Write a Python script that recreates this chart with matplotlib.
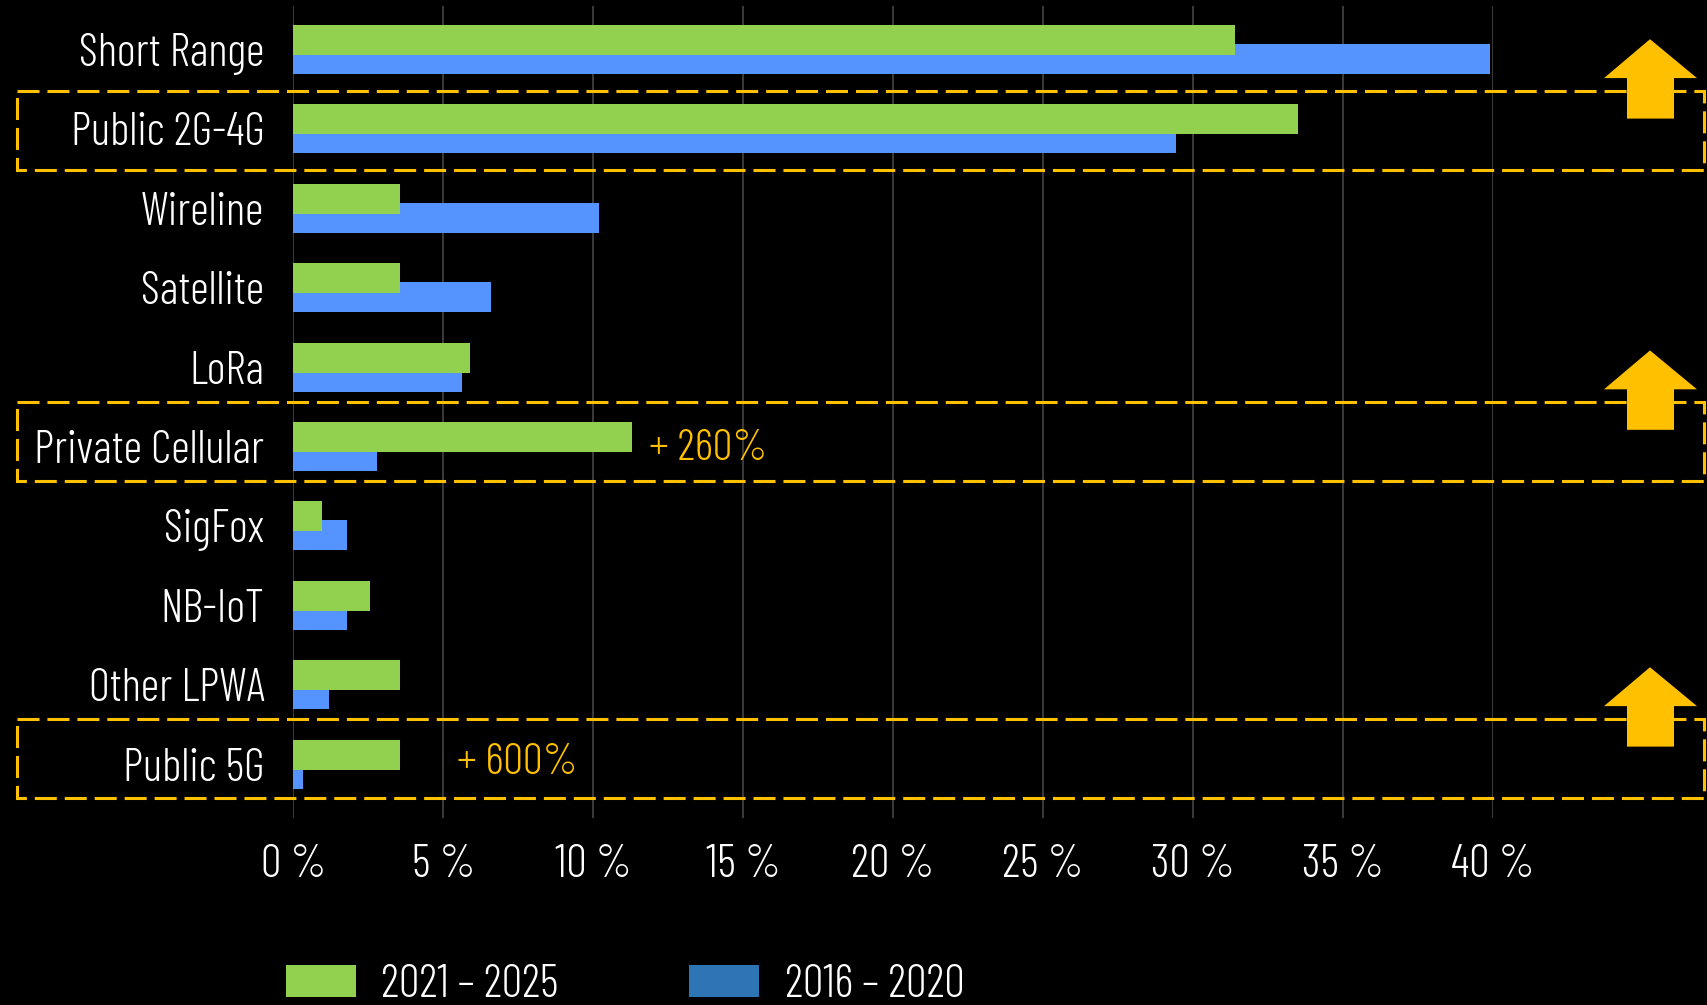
import matplotlib
matplotlib.use('Agg')
import matplotlib.pyplot as plt
import matplotlib.transforms as mtransforms
from matplotlib import font_manager
from matplotlib.patches import Patch, Rectangle, Polygon

# datos
categories = ['Short Range', 'Public 2G-4G', 'Wireline', 'Satellite', 'LoRa',
              'Private Cellular', 'SigFox', 'NB-IoT', 'Other LPWA', 'Public 5G']
share2021_2025 = [31.4, 33.5, 3.55, 3.55, 5.9, 11.3, 0.95, 2.55, 3.55, 3.55]
share2016_2020 = [39.9, 29.45, 10.2, 6.6, 5.62, 2.78, 1.8, 1.8, 1.18, 0.32]
xTicks = [0, 5, 10, 15, 20, 25, 30, 35, 40]
xTickLabels = ['0 %', '5 %', '10 %', '15 %', '20 %', '25 %', '30 %', '35 %', '40 %']
seriesNames = ['2021 – 2025', '2016 – 2020']
boxRows = [1, 5, 9]
growthRows = [5, 9]
growthLabels = ['+ 260%', '+ 600%']

green = '#92D050'
blue = '#5593FF'
blueLegend = '#2E75B6'
amber = '#FFC000'

# fuente estrecha si existe, si no una normal mas pequena
names = {f.name for f in font_manager.fontManager.ttflist}
if 'Barlow Condensed' in names:
     plt.rcParams['font.family'] = ['Barlow Condensed', 'DejaVu Sans']
     plt.rcParams['font.weight'] = 300
     fs = 33
else:
     plt.rcParams['font.family'] = ['Roboto', 'DejaVu Sans']
     plt.rcParams['font.weight'] = 300
     fs = 24
plt.rcParams['font.size'] = fs

W, H = 1708, 1005
fig = plt.figure(figsize=(W / 100, H / 100), dpi=100, facecolor='black')
ax = fig.add_axes([293.5 / W, 1 - 818 / H, (1492.7 - 293.5) / W, (818 - 6) / H])
ax.set_facecolor('black')

rows = list(range(len(categories)))
barH = 0.378
ax.barh([r + 0.12 for r in rows], share2016_2020, height=barH, color=blue, zorder=2)
ax.barh([r - 0.12 for r in rows], share2021_2025, height=barH, color=green, zorder=3)

ax.set_xlim(0, 40)
ax.set_ylim(9.679, -0.548)
ax.set_xticks(xTicks)
ax.set_xticklabels(xTickLabels, color='white')
ax.set_yticks(rows)
ax.set_yticklabels(categories, color='white')
ax.tick_params(axis='x', length=0, pad=19)
ax.tick_params(axis='y', length=0, pad=21)
ax.grid(axis='x', color='#404040', linewidth=1.3, zorder=0)
ax.set_axisbelow(True)
for s in ax.spines.values():
     s.set_visible(False)

# cajas discontinuas y flechas (x en pixeles de figura, y en datos)
trans = mtransforms.blended_transform_factory(fig.transFigure, ax.transData)
boxShift = [-0.48, -0.56, -0.57]
for row, shift in zip(boxRows, boxShift):
     top = row + shift
     ax.add_patch(Rectangle((17 / W, top), (1704 - 17) / W, 1.0, transform=trans,
                            fill=False, edgecolor=amber, linewidth=2.2,
                            linestyle=(0, (7.2, 2.6)), clip_on=False, zorder=5))
     tip, base, bottom = top - 0.65, top - 0.16, top + 0.35
     pts = [(1650 / W, tip), (1697 / W, base), (1674 / W, base), (1674 / W, bottom),
            (1627 / W, bottom), (1627 / W, base), (1604 / W, base)]
     ax.add_patch(Polygon(pts, closed=True, transform=trans, facecolor=amber,
                          edgecolor='none', clip_on=False, zorder=6))

growthX = [11.85, 5.45]
growthDy = [0.03, -0.02]
for row, label, gx, dy in zip(growthRows, growthLabels, growthX, growthDy):
     ax.text(gx, row + dy, label, color=amber, fontsize=fs - 1, ha='left', va='center', zorder=6)

handles = [Patch(facecolor=green), Patch(facecolor=blueLegend)]
fig.legend(handles, seriesNames, loc='upper left', bbox_to_anchor=(286 / W, 1 - 964 / H),
           ncol=2, frameon=False, borderpad=0, borderaxespad=0, fontsize=fs,
           handlelength=1.53, handleheight=0.68, handletextpad=0.55, columnspacing=2.85,
           labelcolor='white')

fig.savefig('out.png', dpi=100, facecolor='black')
